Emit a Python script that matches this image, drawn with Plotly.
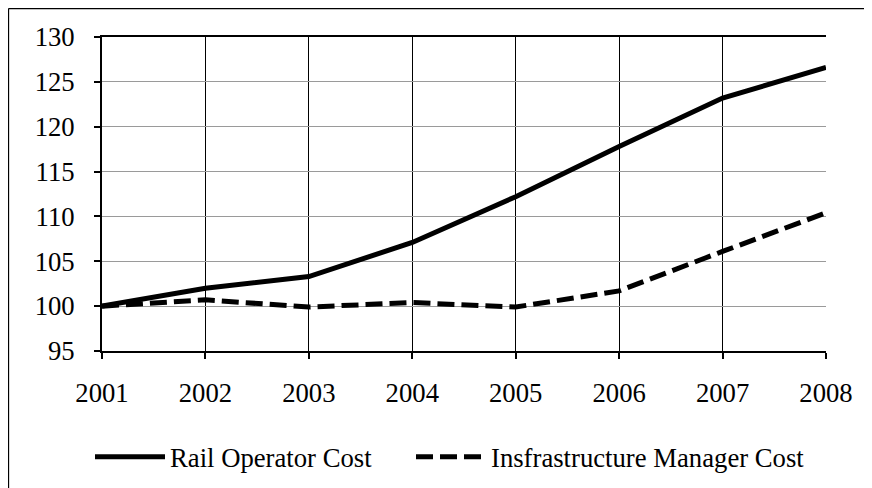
import plotly.graph_objects as go

years = [2001, 2002, 2003, 2004, 2005, 2006, 2007, 2008]
rail_operator = [100.0, 102.0, 103.3, 107.1, 112.2, 117.8, 123.2, 126.6]
infra_manager = [100.0, 100.7, 99.9, 100.4, 99.9, 101.7, 106.1, 110.4]
y_ticks = [95, 100, 105, 110, 115, 120, 125, 130]

FONT = "Times New Roman, Liberation Serif, serif"
FS = 26.7

# page body has an 8px margin, so the figure origin sits at (8, 8) on screen
OFF = 8
W, H = 864, 480
L, T = 102 - OFF, 37 - OFF
R = W - (826 - OFF)
B = H - (351 - OFF)
pw, ph = W - L - R, H - T - B


def px_x(x):
    return (x - OFF - L) / pw


def px_y(y):
    return (H - B - (y - OFF)) / ph


fig = go.Figure()
fig.add_trace(go.Scatter(x=years, y=rail_operator, mode="lines",
                         name="Rail Operator Cost", legend="legend",
                         line=dict(color="black", width=5)))
fig.add_trace(go.Scatter(x=years, y=infra_manager, mode="lines",
                         name="Insfrastructure Manager Cost", legend="legend2",
                         line=dict(color="black", width=5, dash="17px,7px")))

# outer chart frame (left and top edges are visible in the window)
fig.add_shape(type="line", xref="paper", yref="paper",
              x0=px_x(8.5), x1=px_x(8.5), y0=px_y(500), y1=px_y(8.5),
              line=dict(color="black", width=1.3), layer="below")
fig.add_shape(type="line", xref="paper", yref="paper",
              x0=px_x(8.5), x1=px_x(900), y0=px_y(8.5), y1=px_y(8.5),
              line=dict(color="black", width=1.3), layer="below")

leg_common = dict(orientation="h", yanchor="middle", xanchor="left",
                  font=dict(family=FONT, size=FS, color="black"),
                  itemwidth=70, tracegroupgap=0, borderwidth=0,
                  bgcolor="rgba(0,0,0,0)")

fig.update_layout(
    width=W, height=H,
    margin=dict(l=L, r=R, t=T, b=B, autoexpand=False),
    paper_bgcolor="white", plot_bgcolor="white",
    font=dict(family=FONT, size=FS, color="black"),
    showlegend=True,
    legend=dict(x=px_x(90), y=px_y(457), **leg_common),
    legend2=dict(x=px_x(411), y=px_y(457), **leg_common),
    xaxis=dict(range=[2001, 2008], tickvals=years,
               ticktext=[str(y) for y in years], automargin=False,
               showgrid=True, gridcolor="black", gridwidth=1.2,
               showline=True, linecolor="black", linewidth=2, mirror=True,
               ticks="outside", ticklen=6, tickcolor="black", tickwidth=1.5,
               ticklabelstandoff=11, zeroline=False),
    yaxis=dict(range=[95, 130], tickvals=y_ticks, automargin=False,
               showgrid=True, gridcolor="#9a9a9a", gridwidth=1.2,
               showline=True, linecolor="black", linewidth=2,
               ticks="outside", ticklen=6, tickcolor="black", tickwidth=1.5,
               ticklabelstandoff=14, zeroline=False),
)

fig.write_html("out.html")
